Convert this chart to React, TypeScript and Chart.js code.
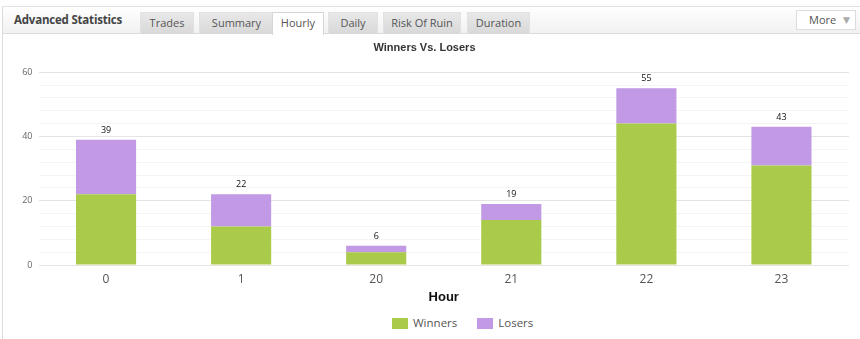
import React, { useEffect, useRef } from "react";
import { Chart, registerables } from "chart.js";

Chart.register(...registerables);

const hours = ["0", "1", "20", "21", "22", "23"];
const winners = [22, 12, 4, 14, 44, 31];
const losers = [17, 10, 2, 5, 11, 12];
const yTicks = [0, 20, 40, 60];
const seriesNames = ["Winners", "Losers"];
const tabs = ["Trades", "Summary", "Hourly", "Daily", "Risk Of Ruin", "Duration"];
const activeTab = "Hourly";

const GREEN = "#aacb4a";
const PURPLE = "#c199e5";
const seriesColors = [GREEN, PURPLE];

// header tab geometry (left, width)
const tabBoxes: [number, number][] = [
  [140, 54],
  [199, 75],
  [272, 52],
  [328, 50],
  [383, 78],
  [467, 63],
];

// writes the stacked total above each column
const totalsPlugin = {
  id: "totals",
  afterDatasetsDraw(chart: any) {
    const { ctx } = chart;
    const topMeta = chart.getDatasetMeta(chart.data.datasets.length - 1);
    ctx.save();
    ctx.font = "9px 'Open Sans', sans-serif";
    ctx.fillStyle = "#111";
    ctx.textAlign = "center";
    ctx.textBaseline = "alphabetic";
    topMeta.data.forEach((bar: any, i: number) => {
      const total = winners[i] + losers[i];
      ctx.fillText(String(total), bar.x, bar.y - 7);
    });
    ctx.restore();
  },
};

function HourlyChart() {
  const ref = useRef<HTMLCanvasElement | null>(null);
  useEffect(() => {
    if (!ref.current) return;
    const chart = new Chart(ref.current, {
      type: "bar",
      data: {
        labels: hours,
        datasets: [
          { label: seriesNames[0], data: winners, backgroundColor: GREEN, borderWidth: 0 },
          { label: seriesNames[1], data: losers, backgroundColor: PURPLE, borderWidth: 0 },
        ],
      },
      options: {
        animation: false,
        responsive: false,
        maintainAspectRatio: false,
        layout: { padding: { left: 0, right: 11, top: 0, bottom: 1 } },
        datasets: { bar: { categoryPercentage: 1, barPercentage: 0.445 } },
        plugins: {
          title: {
            display: true,
            text: "Winners Vs. Losers",
            color: "#333",
            font: { family: "'Liberation Sans', Arial, sans-serif", size: 11, weight: "bold" },
            padding: { top: 5, bottom: 18 },
          },
          legend: { display: false },
          tooltip: { enabled: false },
        },
        scales: {
          x: {
            stacked: true,
            grid: { display: false, drawTicks: false },
            border: { display: false },
            ticks: {
              color: "#555",
              font: { family: "'Open Sans', sans-serif", size: 12 },
              padding: 7,
            },
            title: {
              display: true,
              text: "Hour",
              color: "#111",
              font: { family: "'Liberation Sans', Arial, sans-serif", size: 13, weight: "bold" },
              padding: { top: -4, bottom: 0 },
            },
          },
          y: {
            stacked: true,
            min: 0,
            max: 60,
            border: { display: false },
            grid: {
              drawTicks: false,
              color: (c: any) => (yTicks.includes(c.tick?.value) ? "#e4e4e4" : "#f4f4f4"),
            },
            ticks: {
              stepSize: 4,
              autoSkip: false,
              padding: 6,
              color: "#666",
              font: { family: "'Open Sans', sans-serif", size: 9 },
              callback: (v: any) => (yTicks.includes(Number(v)) ? String(v) : ""),
            },
            afterFit: (scale: any) => {
              scale.width = 38.5;
            },
          },
        },
      },
      plugins: [totalsPlugin],
    });
    return () => chart.destroy();
  }, []);
  return <canvas ref={ref} width={860} height={270} style={{ display: "block" }} />;
}

const tabFont = "'Open Sans', 'DejaVu Sans', sans-serif";

export default function App() {
  return (
    <div
      style={{
        position: "fixed",
        left: 0,
        top: 0,
        width: 860,
        height: 339,
        background: "#fff",
        overflow: "hidden",
        fontFamily: tabFont,
      }}
    >
      <div
        style={{
          position: "absolute",
          left: 2,
          top: 6,
          width: 858,
          height: 333,
          borderLeft: "1px solid #dcdcdc",
          borderTop: "1px solid #e2e2e2",
          boxSizing: "border-box",
        }}
      />
      <div
        style={{
          position: "absolute",
          left: 3,
          top: 7,
          width: 857,
          height: 27,
          background: "linear-gradient(#ffffff, #f1f1f1)",
          borderBottom: "1px solid #dadada",
          boxSizing: "border-box",
        }}
      />
      <span
        style={{
          position: "absolute",
          left: 14,
          top: 12,
          fontSize: 11.5,
          fontWeight: "bold",
          color: "#444",
          letterSpacing: -0.2,
        }}
      >
        Advanced Statistics
      </span>
      {tabs.map((t, i) => {
        const active = t === activeTab;
        const [left, width] = tabBoxes[i];
        return (
          <div
            key={t}
            style={{
              position: "absolute",
              left,
              top: 12,
              width,
              height: active ? 23 : 22,
              boxSizing: "border-box",
              fontSize: 11,
              lineHeight: "20px",
              textAlign: "center",
              color: "#555",
              background: active ? "#fff" : "linear-gradient(#e8e8e8, #d8d8d8)",
              border: active ? "1px solid #d6d6d6" : "1px solid #e2e2e2",
              borderBottom: "none",
              zIndex: active ? 2 : 1,
            }}
          >
            {t}
          </div>
        );
      })}
      <div
        style={{
          position: "absolute",
          left: 796,
          top: 10,
          width: 60,
          height: 20,
          boxSizing: "border-box",
          background: "#fff",
          border: "1px solid #dcdcdc",
          fontSize: 11,
          lineHeight: "18px",
          color: "#555",
          paddingLeft: 12,
        }}
      >
        More
        <span style={{ position: "absolute", right: 5, top: 0, fontSize: 9, color: "#aaa" }}>▼</span>
      </div>
      <div style={{ position: "absolute", left: 0, top: 36 }}>
        <HourlyChart />
      </div>
      {/* series legend */}
      <div style={{ position: "absolute", left: 392, top: 312, display: "flex", alignItems: "center" }}>
        {seriesNames.map((name, i) => (
          <div key={name} style={{ display: "flex", alignItems: "center", marginRight: 20 }}>
            <div style={{ width: 16, height: 11, background: seriesColors[i], marginRight: 5 }} />
            <span style={{ fontSize: 11.5, color: "#555", lineHeight: "22px" }}>{name}</span>
          </div>
        ))}
      </div>
    </div>
  );
}
